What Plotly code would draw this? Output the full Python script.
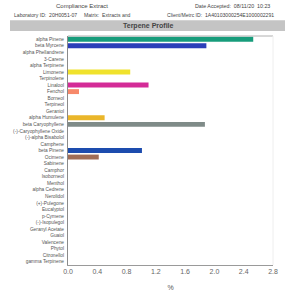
import plotly.graph_objects as go

categories = ["alpha Pinene", "beta Myrcene", "alpha Phellandrene", "3-Carene", "alpha Terpinene",
              "Limonene", "Terpinolene", "Linalool", "Fenchol", "Borneol", "Terpineol", "Geraniol",
              "alpha Humulene", "beta Caryophyllene", "(-)-Caryophyllene Oxide", "(-)-alpha Bisabolol",
              "Camphene", "beta Pinene", "Ocimene", "Sabinene", "Camphor", "Isoborneol", "Menthol",
              "alpha Cedrene", "Nerolidol", "(+)-Pulegone", "Eucalyptol", "p-Cymene", "(-)-Isopulegol",
              "Geranyl Acetate", "Guaiol", "Valencene", "Phytol", "Citronellol", "gamma Terpinene"]
values = [2.53, 1.89, 0, 0, 0,
          0.85, 0, 1.10, 0.15, 0, 0, 0,
          0.50, 1.87, 0, 0,
          0, 1.01, 0.42, 0, 0, 0, 0,
          0, 0, 0, 0, 0, 0,
          0, 0, 0, 0, 0, 0]
colors = ["#179c7b", "#2b3fb8", "#ffffff", "#ffffff", "#ffffff",
          "#f0e22c", "#ffffff", "#d42b97", "#f7896a", "#ffffff", "#ffffff", "#ffffff",
          "#eab62a", "#7f8b88", "#ffffff", "#ffffff",
          "#ffffff", "#1d4cae", "#a06d56", "#ffffff", "#ffffff", "#ffffff", "#ffffff",
          "#ffffff", "#ffffff", "#ffffff", "#ffffff", "#ffffff", "#ffffff",
          "#ffffff", "#ffffff", "#ffffff", "#ffffff", "#ffffff", "#ffffff"]
x_ticks = [0.0, 0.4, 0.8, 1.2, 1.6, 2.0, 2.4, 2.8]

L, R, T, B = 68, 273, 36, 267
W = R - L
H = B - T

def px(x):
    return (x - L) / W

def py(y):
    return (B - y) / H

fig = go.Figure(go.Bar(
    x=values, y=categories, orientation="h",
    marker=dict(color=colors, line=dict(width=0)),
    hoverinfo="x+y",
))

font = "Liberation Sans, Arial, sans-serif"

fig.update_layout(
    width=302, height=302,
    margin=dict(l=L, r=302 - R, t=T, b=302 - B),
    paper_bgcolor="white", plot_bgcolor="white",
    bargap=0.25,
    showlegend=False,
    font=dict(family=font),
    xaxis=dict(range=[0, 2.8], tickvals=x_ticks, ticktext=[f"{v:.1f}" for v in x_ticks],
               showgrid=False, zeroline=False, showline=True, linecolor="#9a9a9a", linewidth=1,
               ticks="", tickfont=dict(size=7, color="#666666", family=font),
               title=dict(text="%", font=dict(size=7, color="#555555", family=font), standoff=10)),
    yaxis=dict(autorange="reversed", showgrid=False, zeroline=False, showline=True,
               linecolor="#8a8a8a", linewidth=1, ticks="", ticklabelstandoff=2,
               tickfont=dict(size=4.8, color="#555555", family=font)),
)

shapes = [
    dict(type="rect", xref="paper", yref="paper", x0=px(10), x1=px(285), y0=py(31), y1=py(20),
         fillcolor="#c4c4c4", line=dict(width=0), layer="below"),
    dict(type="line", xref="paper", yref="paper", x0=0, x1=1, y0=1, y1=1,
         line=dict(color="#b0b0b0", width=1)),
    dict(type="line", xref="paper", yref="paper", x0=1, x1=1, y0=0, y1=1,
         line=dict(color="#eeeeee", width=1)),
]
fig.update_layout(shapes=shapes)

ann = [
    dict(text="Compliance Extract", x=px(82), y=py(6), xanchor="center", size=6),
    dict(text="Date Accepted:  08/11/20  10:23", x=px(232), y=py(6), xanchor="center", size=5.3),
    dict(text="Laboratory ID:  20H0051-07", x=px(12), y=py(14.5), xanchor="left", size=5.1),
    dict(text="Matrix:  Extracts and", x=px(82), y=py(14.5), xanchor="left", size=5.1),
    dict(text="Client/Metrc ID:  1A40103000254E1000002291", x=px(165), y=py(14.5), xanchor="left", size=5.1),
    dict(text="<b>Terpene Profile</b>", x=px(148), y=py(25.8), xanchor="center", size=7),
]
fig.update_layout(annotations=[
    dict(text=a["text"], x=a["x"], y=a["y"], xref="paper", yref="paper", xanchor=a["xanchor"],
         yanchor="middle", showarrow=False,
         font=dict(size=a["size"], color="#444444", family=font))
    for a in ann
])

fig.write_html("out.html")
